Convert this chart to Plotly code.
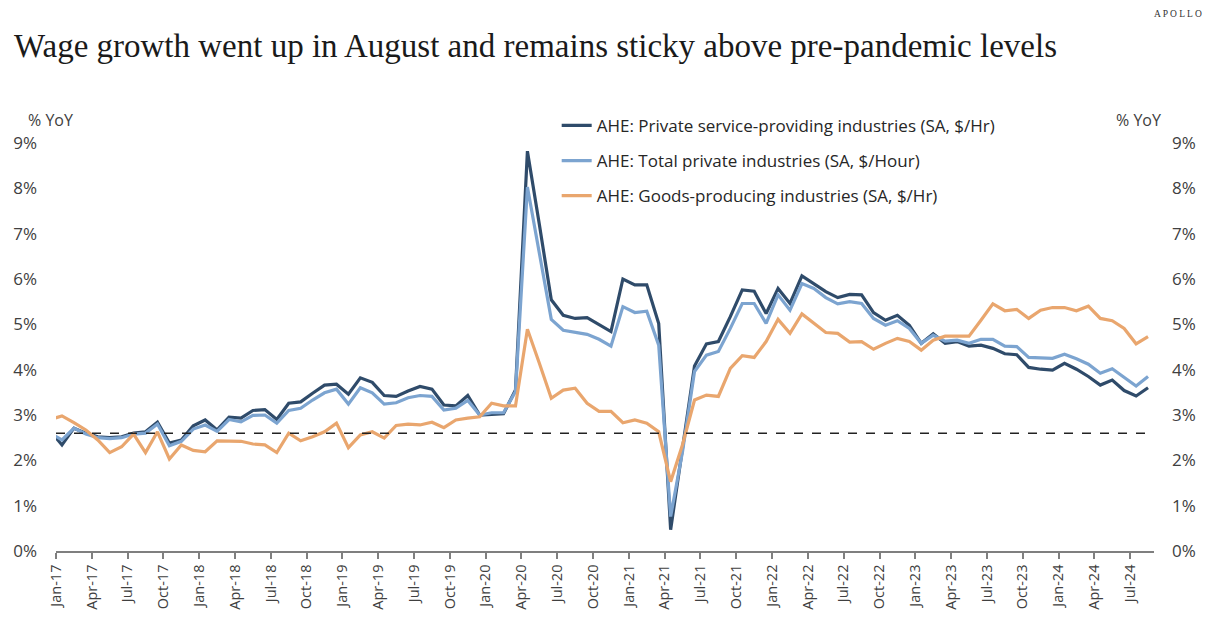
import plotly.graph_objects as go
import pandas as pd

# ---------------- data ----------------
months = pd.date_range("2016-12-01", "2024-08-01", freq="MS")   # Dec-16 .. Aug-24
month_labels = [d.strftime("%b-%y") for d in months]

# AHE: Private service-providing industries (SA, $/Hr), % YoY
service = [2.65,
    2.34, 2.71, 2.60, 2.52, 2.50, 2.52, 2.60, 2.63, 2.84, 2.38, 2.45, 2.76,
    2.89, 2.67, 2.95, 2.93, 3.10, 3.12, 2.90, 3.26, 3.29, 3.48, 3.66, 3.68,
    3.46, 3.82, 3.72, 3.43, 3.41, 3.53, 3.63, 3.57, 3.22, 3.20, 3.43, 3.00,
    3.02, 3.03, 3.55, 8.82, 7.20, 5.54, 5.20, 5.13, 5.15, 5.00, 4.84, 6.00,
    5.87, 5.87, 5.02, 0.47, 2.30, 4.08, 4.57, 4.62, 5.17, 5.76, 5.73, 5.24,
    5.79, 5.46, 6.07, 5.90, 5.72, 5.59, 5.66, 5.65, 5.26, 5.09, 5.20, 4.98,
    4.58, 4.79, 4.58, 4.62, 4.52, 4.54, 4.47, 4.35, 4.33, 4.05, 4.01, 3.99,
    4.14, 4.01, 3.85, 3.66, 3.77, 3.54, 3.42, 3.60]

# AHE: Total private industries (SA, $/Hour), % YoY
total = [2.60,
    2.45, 2.71, 2.58, 2.50, 2.48, 2.50, 2.58, 2.60, 2.80, 2.32, 2.42, 2.69,
    2.78, 2.64, 2.90, 2.85, 2.99, 3.00, 2.82, 3.10, 3.15, 3.33, 3.49, 3.57,
    3.24, 3.60, 3.49, 3.24, 3.27, 3.38, 3.43, 3.41, 3.11, 3.15, 3.32, 3.00,
    3.05, 3.05, 3.52, 8.03, 6.57, 5.11, 4.87, 4.82, 4.78, 4.67, 4.52, 5.39,
    5.26, 5.29, 4.54, 0.76, 2.20, 3.96, 4.32, 4.40, 4.91, 5.46, 5.46, 5.02,
    5.65, 5.31, 5.90, 5.79, 5.59, 5.45, 5.50, 5.46, 5.13, 4.98, 5.08, 4.91,
    4.58, 4.76, 4.63, 4.65, 4.58, 4.67, 4.67, 4.52, 4.51, 4.27, 4.26, 4.25,
    4.34, 4.24, 4.12, 3.92, 4.02, 3.82, 3.64, 3.85]

# AHE: Goods-producing industries (SA, $/Hr), % YoY
goods = [2.90,
    2.98, 2.83, 2.67, 2.45, 2.17, 2.30, 2.58, 2.17, 2.63, 2.03, 2.34, 2.22,
    2.19, 2.43, 2.43, 2.42, 2.36, 2.34, 2.17, 2.60, 2.43, 2.52, 2.63, 2.82,
    2.28, 2.56, 2.63, 2.49, 2.77, 2.80, 2.78, 2.84, 2.72, 2.89, 2.93, 2.96,
    3.26, 3.20, 3.20, 4.89, 4.14, 3.37, 3.55, 3.59, 3.26, 3.08, 3.08, 2.83,
    2.89, 2.82, 2.63, 1.53, 2.35, 3.33, 3.44, 3.41, 4.03, 4.31, 4.27, 4.62,
    5.11, 4.80, 5.23, 5.02, 4.82, 4.80, 4.61, 4.62, 4.45, 4.58, 4.69, 4.62,
    4.43, 4.65, 4.74, 4.74, 4.74, 5.09, 5.45, 5.30, 5.33, 5.13, 5.31, 5.37,
    5.37, 5.30, 5.40, 5.13, 5.08, 4.91, 4.57, 4.73]

pre_pandemic_level = 2.6

series_names = ["AHE: Private service-providing industries (SA, $/Hr)",
                "AHE: Total private industries (SA, $/Hour)",
                "AHE: Goods-producing industries (SA, $/Hr)"]
series_values = [service, total, goods]
series_colors = ["#2F4B6A", "#7CA4D0", "#E9A66E"]

y_ticks = list(range(0, 10))
y_ticktext = [f"{v}%" for v in y_ticks]

# ---------------- positions ----------------
# month-index axis: Jan-17 starts at 0, points sit in the middle of their month
x_pos = [i - 1 + 0.5 for i in range(len(months))]
tick_idx = [i for i, d in enumerate(months) if i >= 1 and d.month in (1, 4, 7, 10)]
tick_vals = [i - 1 for i in tick_idx]
tick_text = [month_labels[i] for i in tick_idx]
n_months = len(months) - 1

FONT = "Open Sans, Noto Sans, sans-serif"
TXT = "#404040"

# page has an 8px body margin, so the figure is sized to fit inside it
W, H = 1212, 612
ML, MR, MT, MB = 48, 66, 135, 69
plot_h = H - MT - MB

fig = go.Figure()
for k, (name, vals, col) in enumerate(zip(series_names, series_values, series_colors)):
    fig.add_trace(go.Scatter(
        x=x_pos, y=vals, name=name, mode="lines",
        line=dict(color=col, width=3.2), legendgroup=f"g{k}",
    ))

# right-hand axis mirror (invisible trace so axis renders)
fig.add_trace(go.Scatter(x=[x_pos[1]], y=[service[1]], yaxis="y2", mode="lines",
                         showlegend=False, hoverinfo="skip", line=dict(width=0)))

fig.add_shape(type="line", xref="x", yref="y", x0=0, x1=n_months - 0.2,
              y0=pre_pandemic_level, y1=pre_pandemic_level,
              line=dict(color="#222222", width=1.5, dash="dash"))

fig.update_layout(
    width=W, height=H,
    paper_bgcolor="white", plot_bgcolor="white",
    margin=dict(l=ML, r=MR, t=MT, b=MB),
    font=dict(family=FONT, size=16, color=TXT),
    title=dict(
        text="Wage growth went up in August and remains sticky above pre-pandemic levels",
        font=dict(family="Liberation Serif, Times New Roman, serif", size=33, color="#1a1a1a"),
        xref="container", yref="container", x=6 / W, xanchor="left",
        y=1 - 37 / H, yanchor="middle",
    ),
    xaxis=dict(
        range=[0, n_months], tickmode="array", tickvals=tick_vals, ticktext=tick_text,
        tickangle=-90, showgrid=False, zeroline=False, automargin=False,
        showline=True, linecolor="#7f7f7f", linewidth=1.5,
        ticks="outside", ticklen=6, tickcolor="#7f7f7f", tickwidth=1.5,
        tickfont=dict(family=FONT, size=14.5, color=TXT),
    ),
    yaxis=dict(
        range=[0, 9], tickmode="array", tickvals=y_ticks, ticktext=y_ticktext,
        showgrid=False, zeroline=False, showline=False, ticks="", automargin=False,
        ticklabelstandoff=18, tickfont=dict(family=FONT, size=17, color=TXT),
    ),
    yaxis2=dict(
        range=[0, 9], tickmode="array", tickvals=y_ticks, ticktext=y_ticktext,
        overlaying="y", side="right", showgrid=False, zeroline=False, showline=False,
        ticks="", automargin=False,
        ticklabelstandoff=17, tickfont=dict(family=FONT, size=17, color=TXT),
    ),
    legend=dict(
        x=0.456, y=1.086, xanchor="left", yanchor="top",
        bgcolor="rgba(0,0,0,0)", font=dict(family=FONT, size=17, color="#262626"),
        tracegroupgap=10, traceorder="grouped",
    ),
    showlegend=True,
)

y_unit = (H - MB - 112) / plot_h
fig.add_annotation(text="% YoY", xref="paper", yref="paper", x=0, y=y_unit,
                   xanchor="left", yanchor="middle", showarrow=False,
                   font=dict(family=FONT, size=16, color=TXT), xshift=-30)
fig.add_annotation(text="% YoY", xref="paper", yref="paper", x=1, y=y_unit,
                   xanchor="right", yanchor="middle", showarrow=False,
                   font=dict(family=FONT, size=16, color=TXT), xshift=9)
fig.add_annotation(text="A P O L L O", xref="paper", yref="paper", x=1,
                   y=(H - MB - 6) / plot_h,
                   xanchor="right", yanchor="middle", showarrow=False,
                   font=dict(family="Liberation Serif, serif", size=9.5, color="#333333"),
                   xshift=50)

fig.write_html("out.html")
